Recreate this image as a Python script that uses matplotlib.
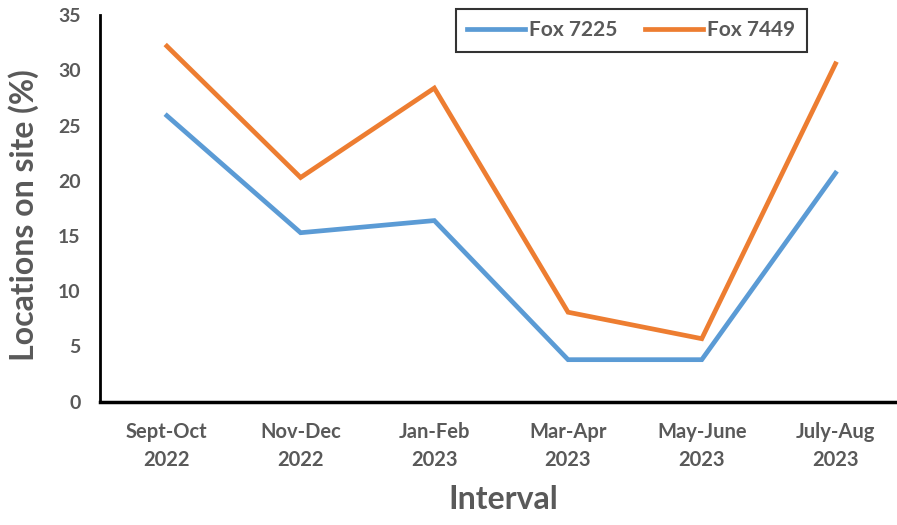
import matplotlib
matplotlib.use("Agg")
import matplotlib.pyplot as plt

categories = ["Sept-Oct\n2022", "Nov-Dec\n2022", "Jan-Feb\n2023", "Mar-Apr\n2023", "May-June\n2023", "July-Aug\n2023"]
fox_7225 = [25.9, 15.3, 16.4, 3.8, 3.8, 20.7]
fox_7449 = [32.2, 20.3, 28.4, 8.1, 5.7, 30.6]
series_names = ["Fox 7225", "Fox 7449"]
y_ticks = [0, 5, 10, 15, 20, 25, 30, 35]

plt.rcParams['font.family'] = ['Lato', 'DejaVu Sans']
gray = "#595959"

fig = plt.figure(figsize=(8.97, 5.25), dpi=100)
ax = fig.add_axes([0.1115, 0.235, 0.8885, 0.736])

x = list(range(len(categories)))
ax.plot(x, fox_7225, color="#5B9BD5", lw=3.4, label=series_names[0], solid_joinstyle="miter")
ax.plot(x, fox_7449, color="#ED7D31", lw=3.4, label=series_names[1], solid_joinstyle="miter")

ax.set_xlim(-0.5, 5.46)
ax.set_ylim(0, 35)
ax.set_yticks(y_ticks)
ax.set_yticklabels([str(t) for t in y_ticks], fontsize=14, color=gray, fontweight="bold")
ax.set_xticks(x)
ax.set_xticklabels(categories, fontsize=14.5, color=gray, fontweight="bold", linespacing=1.5)
ax.tick_params(axis="both", length=0)
ax.tick_params(axis="y", pad=14)
ax.tick_params(axis="x", pad=15)

for s in ["top", "right"]:
    ax.spines[s].set_visible(False)
ax.spines["left"].set_linewidth(2)
ax.spines["bottom"].set_linewidth(2.5)
ax.spines["left"].set_color("black")
ax.spines["bottom"].set_color("black")

ax.set_ylabel("Locations on site (%)", fontsize=23, fontweight="bold", color=gray)
ax.yaxis.set_label_coords(-0.077, 0.483)
ax.set_xlabel("Interval", fontsize=23, fontweight="bold", color=gray)
ax.xaxis.set_label_coords(0.506, -0.215)

leg = ax.legend(loc="upper left", bbox_to_anchor=(0.433, 1.043), ncol=2, frameon=True,
                fontsize=15, handlelength=2.8, columnspacing=1.3, handletextpad=0.2,
                borderpad=0.55, borderaxespad=0.5, fancybox=False)
leg.get_frame().set_edgecolor("black")
leg.get_frame().set_linewidth(1.5)
for t in leg.get_texts():
    t.set_color(gray)
    t.set_fontweight("bold")

fig.savefig("out.png", dpi=100)
